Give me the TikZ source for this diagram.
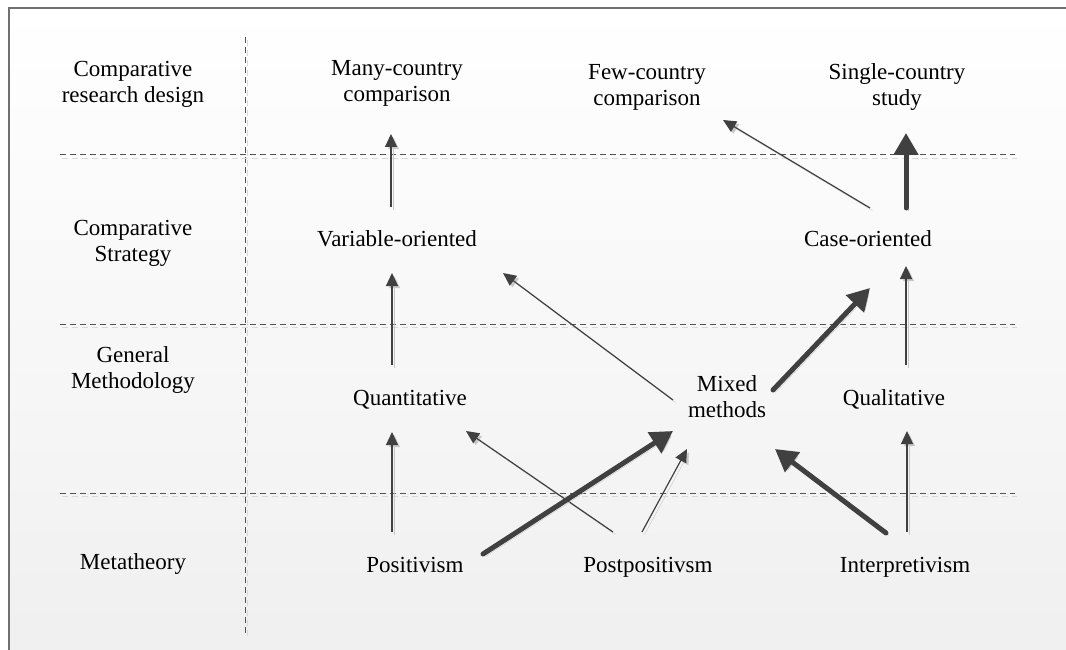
\documentclass[tikz,border=0pt]{standalone}
\usepackage{fontspec}
\setmainfont{Liberation Serif}
\usetikzlibrary{arrows.meta,calc}
\definecolor{ink}{HTML}{404040}
\definecolor{shade}{HTML}{C8C8C8}
\definecolor{frame}{HTML}{707070}
\tikzset{
  lbl/.style={align=center, inner sep=0pt, font=\fontsize{23}{26}\selectfont, text=black},
  one/.style={lbl, text height=17pt, text depth=6pt},
  shadowed/.style={preaction={draw=shade, transform canvas={shift={(2.5pt,-2.5pt)}}}},
  thin arrow/.style={draw=ink, line width=1.2pt, shadowed,
    -{Triangle[length=13pt,width=12pt]}},
  thick arrow/.style={draw=ink, line width=5pt, line cap=round, shadowed,
    -{Triangle[length=22pt,width=24pt]}},
  divider/.style={draw=ink!90, line width=1pt, dash pattern=on 6pt off 4pt,
    preaction={draw=shade!70, dash pattern=on 6pt off 4pt, transform canvas={shift={(2pt,-3pt)}}}}
}
\begin{document}
\begin{tikzpicture}[x=1pt, y=-1pt]
  \useasboundingbox (0,0) rectangle (1066,650);
  % page ground, then the panel with a soft vertical gradient
  \fill[white] (0,0) rectangle (1066,650);
  \foreach \i in {0,...,63} {
    \pgfmathsetmacro{\tone}{100-6*\i/63}
    \fill[white!\tone!black] (9,{8+\i*10.1}) rectangle (1066,{8+(\i+1)*10.1+0.6});
  }
  \draw[frame, line width=2pt] (9,652) -- (9,8) -- (1068,8);

  % grid of rows and the label column
  \draw[divider] (245,37) -- (245,635);
  \draw[divider] (60,155) -- (1015,155);
  \draw[divider] (60,324) -- (1015,324);
  \draw[divider] (60,493) -- (1015,493);

  % row labels
  \node[lbl] (rowdesign) at (133,84) {Comparative\\research design};
  \node[lbl] (rowstrategy) at (133,243) {Comparative\\Strategy};
  \node[lbl] (rowmethod) at (133,370) {General\\Methodology};
  \node[one] (rowmeta) at (133,563.5) {Metatheory};

  % research designs
  \node[lbl] (many) at (397,83) {Many-country\\comparison};
  \node[lbl] (few) at (647,87) {Few-country\\comparison};
  \node[lbl] (single) at (897,87) {Single-country\\study};
  % strategies
  \node[one] (var) at (397,240.5) {Variable-oriented};
  \node[one] (case) at (868,240.5) {Case-oriented};
  % methodologies
  \node[one] (quant) at (410,399.5) {Quantitative};
  \node[lbl] (mixed) at (727,397) {Mixed\\methods};
  \node[one] (qual) at (894,399.5) {Qualitative};
  % metatheories
  \node[one] (pos) at (415,566.5) {Positivism};
  \node[one] (post) at (648,566.5) {Postpositivsm};
  \node[one] (interp) at (905,566.5) {Interpretivism};

  % links
  \draw[thin arrow] ($(pos)+(-23,-34.5)$) -- ($(quant)+(-18,32.5)$);
  \draw[thin arrow] ($(quant)+(-18,-34.5)$) -- ($(var)+(-5,32.5)$);
  \draw[thin arrow] ($(var)+(-6,-33.5)$) -- ($(many)+(-6,51)$);
  \draw[thin arrow] ($(post)+(-35,-34.5)$) -- ($(quant)+(56,31.5)$);
  \draw[thin arrow] ($(post)+(-6,-34.5)$) -- ($(mixed)+(-40,52)$);
  \draw[thin arrow] ($(interp)+(2,-34.5)$) -- ($(qual)+(13,31.5)$);
  \draw[thin arrow] ($(mixed)+(-54,3)$) -- ($(var)+(106,32.5)$);
  \draw[thin arrow] ($(qual)+(12,-34.5)$) -- ($(case)+(38,25.5)$);
  \draw[thin arrow] ($(case)+(2,-32.5)$) -- ($(few)+(76,33)$);

  \draw[thick arrow] ($(pos)+(68,-12.5)$) -- ($(mixed)+(-54,34)$);
  \draw[thick arrow] ($(interp)+(-19,-33.5)$) -- ($(mixed)+(48,52)$);
  \draw[thick arrow] ($(mixed)+(46,-7)$) -- ($(case)+(2,47.5)$);
  \draw[thick arrow] ($(case)+(38,-32.5)$) -- ($(single)+(9,46)$);
\end{tikzpicture}
\end{document}
